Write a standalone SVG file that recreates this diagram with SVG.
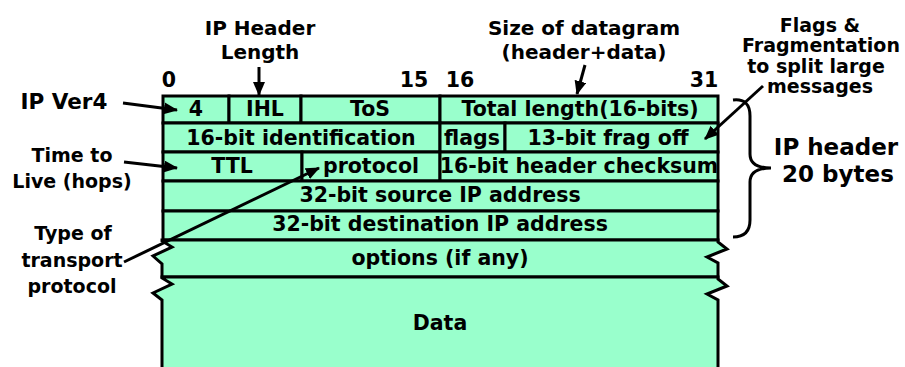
<svg xmlns="http://www.w3.org/2000/svg" width="905" height="367" viewBox="0 0 905 367">
<style>
text{font-family:"DejaVu Sans","Liberation Sans",sans-serif;font-weight:bold;fill:#000;text-anchor:middle}
.t{font-size:20.5px}
.l{font-size:19px}
.m{font-size:20.5px}
.n{font-size:20px}
.c{fill:#99ffcc;stroke:#000;stroke-width:3}
.ln{fill:none;stroke:#000;stroke-width:3}
.ar{fill:none;stroke:#000;stroke-width:3;marker-end:url(#ah)}
</style>
<defs>
<marker id="ah" markerUnits="userSpaceOnUse" markerWidth="14" markerHeight="12" viewBox="0 0 14 12" refX="13" refY="6" orient="auto">
<path d="M0,0 L14,6 L0,12 Z" fill="#000"/>
</marker>
</defs>
<g id="labels-bits">
<text class="m" x="169" y="87">0</text>
<text class="m" x="414" y="87">15</text>
<text class="m" x="460" y="87">16</text>
<text class="m" x="704" y="87">31</text>
</g>
<g id="cell-ver"><rect class="c" x="163" y="96" width="66" height="27"/><text class="t" x="196" y="116">4</text></g>
<g id="cell-ihl"><rect class="c" x="229" y="96" width="72" height="27"/><text class="t" x="265" y="116">IHL</text></g>
<g id="cell-tos"><rect class="c" x="301" y="96" width="139" height="27"/><text class="t" x="370" y="116">ToS</text></g>
<g id="cell-len"><rect class="c" x="440" y="96" width="278" height="27"/><text class="t" x="580" y="116">Total length(16-bits)</text></g>
<g id="cell-id"><rect class="c" x="163" y="123" width="277" height="29"/><text class="t" x="301" y="145">16-bit identification</text></g>
<g id="cell-flags"><rect class="c" x="440" y="123" width="65" height="29"/><text class="t" x="472" y="145">flags</text></g>
<g id="cell-frag"><rect class="c" x="505" y="123" width="213" height="29"/><text class="t" x="608" y="145">13-bit frag off</text></g>
<g id="cell-ttl"><rect class="c" x="163" y="152" width="139" height="29"/><text class="t" x="232" y="173">TTL</text></g>
<g id="cell-proto"><rect class="c" x="302" y="152" width="138" height="29"/><text class="t" x="371" y="173">protocol</text></g>
<g id="cell-csum"><rect class="c" x="440" y="152" width="278" height="29"/><text class="t" x="579" y="173">16-bit header checksum</text></g>
<g id="cell-src"><rect class="c" x="163" y="181" width="555" height="30"/><text class="t" x="440" y="202">32-bit source IP address</text></g>
<g id="cell-dst"><rect class="c" x="163" y="211" width="555" height="29"/><text class="t" x="440" y="231">32-bit destination IP address</text></g>
<g id="cell-options">
<path d="M162,240 L718,240 L718,242 L727,249 L707,257 L718,263 L718,277 L162,277 L162,264 L153,256 L172,247 L162,241 Z" fill="#99ffcc" stroke="#000" stroke-width="3" stroke-linejoin="miter"/>
<text class="t" x="440" y="265">options (if any)</text>
</g>
<g id="cell-data">
<path d="M162,277 L718,277 L718,279 L727,286 L707,294 L718,300 L718,372 L162,372 L162,300 L153,293 L172,284 L162,278 Z" fill="#99ffcc" stroke="none"/>
<path d="M162,372 L162,300 L153,293 L172,284 L162,278 L162,277 L718,277 L718,279 L727,286 L707,294 L718,300 L718,372" class="ln"/>
<text class="t" x="440" y="330">Data</text>
</g>
<g id="note-ihl">
<text class="n" x="260" y="35">IP Header</text>
<text class="n" x="260" y="59">Length</text>
</g>
<g id="note-size">
<text class="n" x="584" y="35">Size of datagram</text>
<text class="n" x="584" y="59">(header+data)</text>
</g>
<g id="note-flags">
<text class="l" x="820" y="32">Flags &amp;</text>
<text class="l" x="821" y="52">Fragmentation</text>
<text class="l" x="816" y="73">to split large</text>
<text class="l" x="820" y="93">messages</text>
</g>
<g id="note-ver"><text style="font-size:21.5px" x="64" y="109">IP Ver4</text></g>
<g id="note-ttl">
<text class="l" x="72" y="162">Time to</text>
<text class="l" x="72" y="188">Live (hops)</text>
</g>
<g id="note-proto">
<text class="l" x="73" y="240">Type of</text>
<text class="l" x="72" y="267">transport</text>
<text class="l" x="72" y="293">protocol</text>
</g>
<g id="note-header">
<text style="font-size:23px" x="836" y="155">IP header</text>
<text style="font-size:23px" x="838" y="182">20 bytes</text>
</g>
<g id="connectors">
<line class="ar" x1="259" y1="67" x2="259" y2="95"/>
<line class="ar" x1="585" y1="65" x2="577" y2="94"/>
<line class="ar" x1="123" y1="103" x2="177" y2="110"/>
<line class="ar" x1="124" y1="162" x2="177" y2="168"/>
<line class="ar" x1="124" y1="262" x2="319" y2="168"/>
<line class="ar" x1="763" y1="86" x2="705" y2="139"/>
<path class="ln" d="M733,100 Q750,98 750,116 L750,154 Q750,168 771,168 Q750,168 750,182 L750,220 Q750,237 733,237"/>
</g>
</svg>
